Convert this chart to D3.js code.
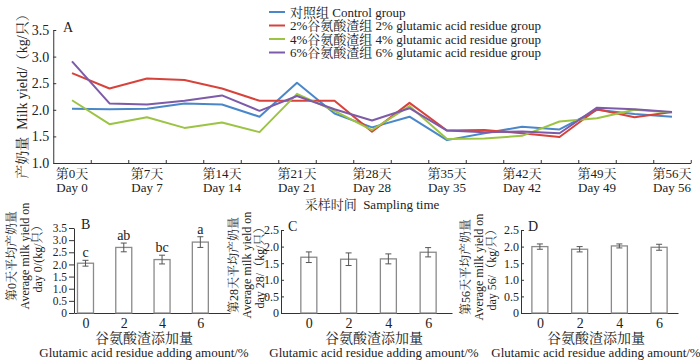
<!DOCTYPE html>
<html><head><meta charset="utf-8">
<script src="https://cdn.jsdelivr.net/npm/d3@7"></script>
<style>
body{margin:0;background:#fff}
svg{display:block}
text{font-family:"Liberation Serif","Times New Roman","Noto Serif CJK SC","Noto Sans CJK SC",serif;fill:#222}
</style>
</head><body>
<svg id="c" width="700" height="360"></svg>
<script>
// ---- data ----
const samplingDays = [0, 3.5, 7, 10.5, 14, 17.5, 21, 24.5, 28, 31.5, 35, 38.5, 42, 45.5, 49, 52.5, 56];
const tickDays = [0, 7, 14, 21, 28, 35, 42, 49, 56];
const tickLabelsCN = ["第0天", "第7天", "第14天", "第21天", "第28天", "第35天", "第42天", "第49天", "第56天"];
const tickLabelsEN = ["Day 0", "Day 7", "Day 14", "Day 21", "Day 28", "Day 35", "Day 42", "Day 49", "Day 56"];
const yTicksTop = [1.0, 1.5, 2.0, 2.5, 3.0, 3.5];

const seriesNames = ["对照组 Control group", "2%谷氨酸渣组 2% glutamic acid residue group",
  "4%谷氨酸渣组 4% glutamic acid residue group", "6%谷氨酸渣组 6% glutamic acid residue group"];
const control = [2.02, 2.01, 2.02, 2.12, 2.10, 1.87, 2.51, 1.93, 1.67, 1.87, 1.43, 1.56, 1.68, 1.63, 2.00, 1.92, 1.87];
const glu2 = [2.69, 2.40, 2.59, 2.56, 2.40, 2.17, 2.17, 2.17, 1.59, 2.13, 1.61, 1.62, 1.56, 1.49, 2.01, 1.86, 1.96];
const glu4 = [2.18, 1.73, 1.86, 1.66, 1.76, 1.58, 2.30, 1.98, 1.62, 2.07, 1.45, 1.46, 1.51, 1.78, 1.84, 2.00, 1.95];
const glu6 = [2.91, 2.12, 2.10, 2.17, 2.27, 1.98, 2.26, 2.01, 1.80, 2.03, 1.61, 1.58, 1.59, 1.56, 2.04, 2.01, 1.96];
const seriesColors = ["#4a87c9", "#d7433b", "#9cc444", "#7d5ba8"];

const addLevels = [0, 2, 4, 6];
const day0Mean = [2.05, 2.70, 2.20, 2.92];
const day0Err = [0.12, 0.18, 0.18, 0.22];
const day0Letters = ["c", "ab", "bc", "a"];
const day28Mean = [1.68, 1.62, 1.63, 1.83];
const day28Err = [0.16, 0.19, 0.15, 0.14];
const day56Mean = [2.00, 1.92, 2.02, 1.98];
const day56Err = [0.08, 0.08, 0.06, 0.09];
const yTicksB = [0, 0.5, 1.0, 1.5, 2.0, 2.5, 3.0, 3.5];
const yTicksCD = [0, 0.5, 1.0, 1.5, 2.0, 2.5];

// ---- drawing ----
const svg = d3.select("#c");
const axisColor = "#333";

// Top chart A
const x = d3.scaleLinear().domain([-1.75, 57.75]).range([53.25, 690.75]);
const y = d3.scaleLinear().domain([1.0, 3.5]).range([163, 30]);

const tickBounds = samplingDays.map(d => d + 1.75);
const gx = svg.append("g").attr("transform", "translate(0,163)")
  .call(d3.axisBottom(x).tickValues(tickBounds).tickSize(-3).tickFormat("").tickSizeOuter(0));
gx.select(".domain").attr("stroke", axisColor);
gx.selectAll(".tick line").attr("stroke", axisColor);

const gy = svg.append("g").attr("transform", "translate(53.25,0)")
  .call(d3.axisLeft(y).tickValues(yTicksTop).tickSize(-3).tickPadding(4).tickFormat(d3.format(".1f")).tickSizeOuter(0));
gy.select(".domain").attr("stroke", axisColor);
gy.selectAll(".tick line").attr("stroke", axisColor);
gy.selectAll(".tick text").attr("font-size", 14).attr("font-family", "Liberation Serif").attr("fill", "#222");

const lab = svg.append("g");
tickDays.forEach((d, i) => {
  lab.append("text").attr("x", x(d)).attr("y", 178).attr("text-anchor", "middle").attr("font-size", 13).text(tickLabelsCN[i]);
  lab.append("text").attr("x", x(d)).attr("y", 192).attr("text-anchor", "middle").attr("font-size", 13).text(tickLabelsEN[i]);
});
svg.append("text").attr("x", 372).attr("y", 209).attr("text-anchor", "middle").attr("font-size", 13)
  .attr("xml:space", "preserve").text("采样时间  Sampling time");
svg.append("text").attr("transform", "translate(27,93) rotate(-90)").attr("text-anchor", "middle").attr("font-size", 14)
  .attr("xml:space", "preserve").text("产奶量  Milk yield/（kg/只）");
svg.append("text").attr("x", 63).attr("y", 32).attr("font-size", 14).text("A");

const allSeries = [control, glu2, glu4, glu6];
const line = d3.line().x((d, i) => x(samplingDays[i])).y(d => y(d));
allSeries.forEach((s, k) => {
  svg.append("path").datum(s).attr("d", line).attr("fill", "none")
    .attr("stroke", seriesColors[k]).attr("stroke-width", 2).attr("stroke-linejoin", "round");
});

// legend
const leg = svg.append("g");
seriesNames.forEach((n, k) => {
  const ly = 12 + k * 13.5;
  leg.append("line").attr("x1", 269).attr("x2", 285).attr("y1", ly).attr("y2", ly)
    .attr("stroke", seriesColors[k]).attr("stroke-width", 2);
  leg.append("text").attr("x", 290).attr("y", ly + 4.5).attr("font-size", 13).text(n);
});

// Bottom panels
function panel(opts) {
  const { left, right, top, bottom, domainMax, ticks, means, errs, letters, label, xdom, ylab, ylabX, ylabY,
    titleX, tickSz, tickFont } = opts;
  const g = svg.append("g");
  const bx = d3.scaleLinear().domain(xdom).range([left, right]);
  const by = d3.scaleLinear().domain([0, domainMax]).range([bottom, top]);
  const ax = g.append("g").attr("transform", `translate(0,${bottom})`)
    .call(d3.axisBottom(bx).tickValues(addLevels).tickSize(0).tickPadding(5).tickFormat(d3.format("d")));
  ax.select(".domain").attr("stroke", axisColor);
  ax.selectAll(".tick text").attr("font-size", 14).attr("font-family", "Liberation Serif").attr("fill", "#222");
  const ay = g.append("g").attr("transform", `translate(${left},0)`)
    .call(d3.axisLeft(by).tickValues(ticks).tickSize(tickSz).tickPadding(2)
      .tickFormat(d => d === 0 ? "0" : d3.format(".1f")(d)).tickSizeOuter(0));
  ay.select(".domain").attr("stroke", axisColor);
  ay.selectAll(".tick line").attr("stroke", axisColor);
  ay.selectAll(".tick text").attr("font-size", tickFont).attr("font-family", "Liberation Serif").attr("fill", "#222");
  const bw = 16;
  addLevels.forEach((lv, i) => {
    const cx = bx(lv);
    g.append("rect").attr("x", cx - bw / 2).attr("y", by(means[i])).attr("width", bw)
      .attr("height", by(0) - by(means[i])).attr("fill", "#fff").attr("stroke", "#8a8a8a").attr("stroke-width", 1.3);
    const t = by(means[i] + errs[i]), b = by(means[i] - errs[i]);
    g.append("line").attr("x1", cx).attr("x2", cx).attr("y1", t).attr("y2", b).attr("stroke", "#555").attr("stroke-width", 1);
    g.append("line").attr("x1", cx - 3).attr("x2", cx + 3).attr("y1", t).attr("y2", t).attr("stroke", "#555").attr("stroke-width", 1);
    g.append("line").attr("x1", cx - 3).attr("x2", cx + 3).attr("y1", b).attr("y2", b).attr("stroke", "#555").attr("stroke-width", 1);
    if (letters) {
      g.append("text").attr("x", cx).attr("y", t - 3).attr("text-anchor", "middle").attr("font-size", 14).text(letters[i]);
    }
  });
  g.append("text").attr("x", left + 7).attr("y", top + 1).attr("font-size", 14).text(label);
  ylab.forEach((s, j) => {
    g.append("text").attr("transform", `translate(${ylabX + j * 13},${ylabY}) rotate(-90)`)
      .attr("text-anchor", "middle").attr("font-size", 12).text(s);
  });
  g.append("text").attr("x", titleX).attr("y", 343).attr("text-anchor", "middle").attr("font-size", 14).text("谷氨酸渣添加量");
  g.append("text").attr("x", titleX).attr("y", 357).attr("text-anchor", "middle").attr("font-size", 13).text("Glutamic acid residue adding amount/%");
}

panel({ left: 74, right: 230, top: 228, bottom: 313, domainMax: 3.5, ticks: yTicksB, means: day0Mean, errs: day0Err,
  letters: day0Letters, label: "B", xdom: [-0.6, 7.55], tickSz: 5, tickFont: 11.5,
  ylab: ["第0天平均产奶量", "Average milk yield on", "day 0/(kg/只）"], ylabX: 16, ylabY: 256, titleX: 144 });
panel({ left: 281, right: 452, top: 230, bottom: 313, domainMax: 2.5, ticks: yTicksCD, means: day28Mean, errs: day28Err,
  letters: null, label: "C", xdom: [-1.4, 7.2], tickSz: -3, tickFont: 12,
  ylab: ["第28天平均产奶量", "Average milk yield on", "day 28/（kg/只）"], ylabX: 238, ylabY: 265, titleX: 374 });
panel({ left: 521, right: 678, top: 230, bottom: 313, domainMax: 2.5, ticks: yTicksCD, means: day56Mean, errs: day56Err,
  letters: null, label: "D", xdom: [-0.95, 6.95], tickSz: -3, tickFont: 12,
  ylab: ["第56天平均产奶量", "Average milk yield on", "day 56/（kg/只）"], ylabX: 470, ylabY: 267, titleX: 596 });
</script>
</body></html>
